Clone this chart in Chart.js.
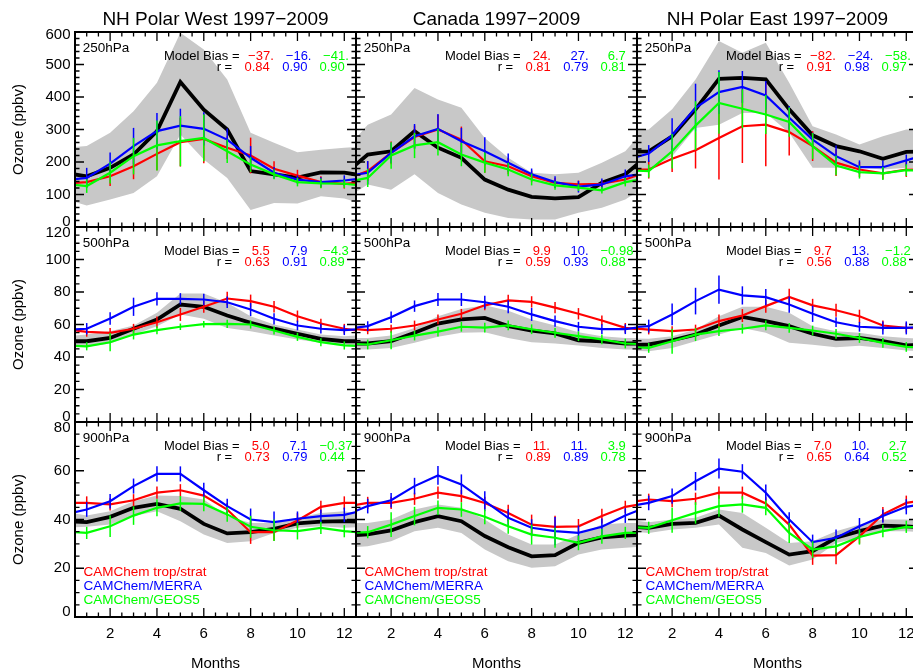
<!DOCTYPE html>
<html>
<head>
<meta charset="utf-8">
<script src="https://cdn.jsdelivr.net/npm/chart.js@4.4.1/dist/chart.umd.min.js"></script>
<style>
  html, body { margin: 0; padding: 0; background: #fff; overflow: hidden; }
  #page { position: relative; width: 920px; height: 670px; }
  #page canvas { position: absolute; left: 0; top: 0; }
</style>
</head>
<body>
<div id="page"></div>
<script>
// ---- data -------------------------------------------------------------
const months = [1, 2, 3, 4, 5, 6, 7, 8, 9, 10, 11, 12];
const xTickLabels = [2, 4, 6, 8, 10, 12];
const regions = ['NH Polar West 1997\u22122009', 'Canada 1997\u22122009', 'NH Polar East 1997\u22122009'];
const levels = ['250hPa', '500hPa', '900hPa'];
const yMax = [600, 120, 80];
const yMajor = [100, 20, 20];
const yMinor = [20, 5, 5];
const modelNames = ['CAMChem trop/strat', 'CAMChem/MERRA', 'CAMChem/GEOS5'];

// panels run row by row: 250hPa (West, Canada, East), 500hPa ..., 900hPa ...
const obsMean = [
  [156, 182, 223, 295, 446, 361, 300, 172, 162, 152, 168, 167],
  [223, 233, 295, 244, 213, 146, 115, 93, 88, 92, 136, 162],
  [233, 279, 362, 456, 459, 454, 362, 282, 249, 233, 210, 231],
  [49.7, 51.7, 57.4, 63, 72.3, 70.9, 65.5, 61, 57.4, 54.3, 51.2, 49.7],
  [48.3, 49.7, 54.9, 60.6, 63.1, 64.1, 59, 56.3, 54.5, 50.3, 49.7, 48.3],
  [47.7, 50.3, 53.8, 59.4, 64.7, 62.1, 59, 54.3, 51.2, 51.7, 49.7, 47.1],
  [38.9, 41.1, 44.8, 46.4, 44.4, 38.2, 34.3, 34.8, 36.2, 38.4, 39.1, 39.3],
  [33.9, 35.5, 38.9, 41.4, 39.3, 33.2, 28.6, 24.9, 25.4, 30.4, 32.7, 33.4],
  [36.6, 38.2, 38.6, 41.6, 35.9, 30.7, 25.6, 27, 32.5, 35.2, 37.5, 37.2]
];
const obsLow = [
  [66, 85, 105, 156, 285, 208, 151, 52, 74, 72, 95, 88],
  [131, 115, 162, 105, 69, 44, 28, 23, 23, 44, 59, 85],
  [177, 218, 305, 315, 351, 351, 290, 182, 182, 182, 177, 182],
  [46.3, 48.3, 53.8, 59, 66.2, 63.5, 57.9, 55.9, 53.2, 50.8, 48.7, 47.7],
  [44.6, 45.6, 48.7, 52.4, 54.9, 55.3, 51.7, 49.1, 48.3, 47.1, 45.6, 44.6],
  [43.5, 45.6, 49.7, 53.8, 57.9, 54.9, 48.7, 47.5, 46, 47, 45.6, 44],
  [37, 37.9, 41.4, 43.4, 39.3, 33.8, 30.4, 31.1, 34.5, 36.6, 37.2, 36.6],
  [29, 31.1, 35.2, 36.6, 34.5, 27.7, 22.9, 20.2, 20.8, 25.6, 27.7, 28.4],
  [34.5, 35.9, 36.6, 37.9, 28.4, 26.3, 21.1, 23.6, 30.4, 32.5, 35.2, 35.2]
];
const obsHigh = [
  [249, 290, 356, 444, 598, 546, 454, 290, 259, 230, 238, 244],
  [315, 346, 428, 392, 367, 274, 213, 167, 162, 167, 198, 233],
  [300, 362, 454, 572, 536, 567, 444, 310, 285, 254, 279, 300],
  [53.8, 55.9, 59.4, 67.2, 79.1, 79.1, 73.4, 65.1, 60, 56.9, 53.8, 52.8],
  [51.7, 53.2, 57.9, 65.1, 69.6, 71.8, 68.4, 63.1, 59.4, 55.3, 52.8, 51.7],
  [51.2, 52.8, 56.9, 65.1, 70.9, 70.9, 67.2, 59, 55.9, 54.9, 52.8, 51.7],
  [41.6, 43.4, 47.5, 49.8, 49.6, 48.2, 41.4, 38.6, 38.6, 40.7, 42.7, 43.4],
  [38.6, 40, 44.1, 46.2, 44.8, 40, 33.8, 29.7, 29.7, 33.8, 37.9, 38.6],
  [38.9, 40, 40.7, 44.1, 42.7, 36.6, 30.4, 31.1, 35.2, 37.9, 40, 40]
];

const tropStrat = [
  [138, 156, 187, 225, 261, 271, 244, 220, 179, 158, 138, 133],
  [172, 228, 277, 300, 269, 202, 187, 156, 136, 131, 133, 146],
  [177, 210, 236, 274, 310, 315, 292, 249, 198, 177, 165, 177],
  [55.5, 54.9, 57.4, 61.4, 66.2, 70.9, 76, 74.4, 70.9, 65.1, 60.6, 57.4],
  [56.5, 57.4, 59.4, 63.1, 66.6, 71.8, 74.8, 73.9, 70.4, 66.6, 62.5, 57.9],
  [56.9, 55.9, 56.9, 62.1, 65.5, 71.3, 77, 71.8, 68.8, 65.1, 59.4, 58],
  [46.8, 46.2, 47.9, 51, 52, 49.8, 44.1, 34.8, 34.8, 39.6, 45.2, 46.8],
  [46.8, 46.8, 48.5, 51, 49.6, 46.8, 42.7, 37.9, 37, 37.2, 41.4, 45.2],
  [48.2, 47.5, 48.5, 51, 51, 46.6, 37.9, 25.2, 25.4, 33.1, 42.1, 46.8]
];
const merra = [
  [151, 195, 249, 295, 312, 302, 269, 213, 167, 146, 138, 143],
  [167, 228, 279, 302, 264, 233, 198, 162, 138, 124, 131, 156],
  [226, 282, 367, 415, 431, 405, 336, 269, 218, 184, 184, 205],
  [57.4, 63.7, 70.9, 75.8, 75.8, 75.4, 73.7, 69.2, 63.5, 59.4, 57.4, 56.5],
  [59, 64.5, 71.3, 75.4, 75.4, 73.7, 70.9, 66.2, 62.1, 58.6, 57.1, 57.1],
  [59, 66.2, 74.4, 81.5, 77.9, 76.8, 72.3, 66.6, 61.4, 58.6, 57.9, 57.9],
  [44.1, 47.5, 53.7, 58.7, 58.7, 52, 45.5, 40, 38.9, 40.3, 41.4, 41.9],
  [45.5, 47.9, 53.7, 58.1, 54.4, 47.5, 40.7, 36.6, 35.2, 34.5, 37, 41.6],
  [46.8, 49.6, 55.7, 60.9, 59.6, 51, 40, 30.7, 32.5, 37.2, 41.4, 45.2]
];
const geos5 = [
  [126, 167, 218, 251, 264, 274, 233, 192, 162, 138, 134, 133],
  [151, 220, 251, 261, 223, 198, 177, 146, 128, 121, 113, 138],
  [172, 233, 312, 382, 364, 346, 323, 249, 189, 169, 165, 175],
  [46.6, 49.1, 53.8, 56.5, 58.6, 60.2, 60.4, 60, 56.3, 52.4, 49.1, 47.1],
  [47.7, 50.3, 53.2, 55.6, 58.6, 58.1, 59.4, 57.1, 54.9, 52.8, 50.8, 48.3],
  [45.6, 49.7, 53.8, 55.9, 57.4, 59.4, 57.9, 56.3, 54.3, 51.7, 48.7, 46.2],
  [34.5, 37.2, 41.6, 44.8, 46.6, 46.4, 42.1, 37, 35.6, 35.2, 36.6, 35.2],
  [34.8, 37.9, 41.4, 44.8, 44.1, 41.1, 37.2, 33.8, 32.5, 30.4, 33.1, 34.5],
  [36.6, 39.7, 42.7, 45.5, 46.2, 44.8, 34.5, 27.7, 29, 32.8, 35.2, 37]
];

// half-length of the spread bars
const tropStratErr = [
  [12, 30, 40, 50, 75, 75, 35, 55, 23, 18, 18, 15],
  [30, 35, 35, 45, 40, 35, 25, 18, 15, 12, 12, 15],
  [28, 41, 56, 128, 113, 128, 72, 46, 41, 23, 18, 23],
  [3, 3, 3, 3.5, 4, 3.6, 4.1, 4, 3.5, 3.5, 3, 3],
  [2.5, 2.5, 3, 3, 3, 3, 3.5, 3.5, 3.5, 3.5, 3, 3],
  [3, 3, 3, 4, 4, 4, 5, 4, 4, 4, 3, 3],
  [2.7, 2.5, 2.5, 2.5, 2.5, 2.7, 2.7, 4.8, 3.5, 3, 2.5, 2.7],
  [2.5, 2.5, 2.5, 2.5, 2.5, 2.5, 3.4, 4.1, 4.5, 3, 3, 2.5],
  [2.4, 2.5, 2.5, 2.5, 2.5, 2.5, 3, 3.8, 3.8, 3, 3, 3]
];
const merraErr = [
  [31, 34, 56, 56, 52, 51, 34, 36, 18, 13, 15, 16],
  [36, 31, 38, 46, 41, 43, 28, 18, 18, 18, 18, 21],
  [26, 53, 74, 67, 49, 44, 36, 21, 33, 21, 21, 18],
  [3.5, 3.8, 5.6, 4.1, 3.5, 3.5, 3.5, 4, 3.5, 3, 3, 3],
  [3, 3.5, 3.5, 4, 4, 4, 4, 4, 3.5, 3, 3, 3],
  [4, 6.7, 8.2, 8.7, 5.6, 5, 5, 5, 3, 3, 4, 4],
  [3, 3, 3.1, 3.1, 3.1, 3.1, 3, 4.5, 4.4, 3, 2.7, 3],
  [3, 3, 3.4, 3.8, 4.1, 4.1, 3.5, 3.5, 5.8, 3, 3.4, 3],
  [3, 3.1, 3.8, 4.1, 3.1, 3.4, 3, 3.1, 3.4, 3.4, 2.7, 3.1]
];
const geos5Err = [
  [21, 33, 56, 77, 77, 72, 36, 23, 15, 13, 15, 13],
  [28, 41, 39, 41, 36, 31, 21, 18, 13, 10, 10, 13],
  [20, 53, 75, 95, 60, 60, 45, 40, 30, 20, 20, 18],
  [2.5, 5.6, 3, 2.5, 2, 2, 2.5, 2.5, 2.5, 2.5, 2.5, 2.5],
  [3, 5.6, 3, 3, 3, 3, 3, 3, 3, 3, 3, 3],
  [3, 7.7, 4, 3, 3, 3, 3, 3, 3, 3, 3, 3],
  [2.5, 4.4, 3.8, 3.5, 3, 3, 3, 4.5, 4.4, 3.4, 2.5, 2.5],
  [2.5, 5.1, 3.8, 3, 3, 3, 3, 4.1, 4.1, 3, 3, 2.5],
  [2.5, 5.1, 4.4, 4.4, 3.4, 3.1, 4.1, 3.4, 3.1, 3.1, 2.5, 2.5]
];

const biasText = [
  ['\u221237.', '\u221216.', '\u221241.'],
  ['24.', '27.', '6.7'],
  ['\u221282.', '\u221224.', '\u221258.'],
  ['5.5', '7.9', '\u22124.3'],
  ['9.9', '10.', '\u22120.98'],
  ['9.7', '13.', '\u22121.2'],
  ['5.0', '7.1', '\u22120.37'],
  ['11.', '11.', '3.9'],
  ['7.0', '10.', '2.7']
];
const corrText = [
  ['0.84', '0.90', '0.90'],
  ['0.81', '0.79', '0.81'],
  ['0.91', '0.98', '0.97'],
  ['0.63', '0.91', '0.89'],
  ['0.59', '0.93', '0.88'],
  ['0.56', '0.88', '0.88'],
  ['0.73', '0.79', '0.44'],
  ['0.89', '0.89', '0.78'],
  ['0.65', '0.64', '0.52']
];

// ---- layout -----------------------------------------------------------
const PAGE_W = 920, PAGE_H = 670;
const colLeft = [75, 356, 637];
const COL_W = 281;
const rowTop = [32, 227, 422];
const ROW_H = 195;
const FONT = '"Liberation Sans", Arial, Helvetica, sans-serif';
const RED = '#ff0000', BLUE = '#0000ff', GREEN = '#00ff00', GRAY = '#c8c8c8';
const modelColors = [RED, BLUE, GREEN];
const valueCols = [169.5, 207.2, 244.5];

// Dec in front, Jan at the end, so the curves run to both frame edges
function wrap(values) {
  const xs = [0, ...months, 13];
  const ys = [values[11], ...values, values[0]];
  return xs.map((x, i) => ({ x, y: ys[i] }));
}

function lineSet(values, color, width, order) {
  return {
    type: 'line', data: wrap(values), borderColor: color, borderWidth: width,
    pointRadius: 0, tension: 0, fill: false, clip: 0, order
  };
}

function spreadSet(values, errs, color, order) {
  return {
    type: 'bar',
    data: months.map((m, i) => ({ x: m, y: [values[i] - errs[i], values[i] + errs[i]] })),
    backgroundColor: color, borderWidth: 0, maxBarThickness: 1.5, grouped: false,
    clip: 0, order
  };
}

function panelDecor(row, col, p) {
  return {
    id: 'panelDecor',
    afterDraw(chart) {
      const { ctx, chartArea: a } = chart;
      const xs = chart.scales.x, ys = chart.scales.y;
      ctx.save();

      // inward ticks on all four sides
      ctx.strokeStyle = '#000';
      ctx.lineWidth = 1.3;
      ctx.beginPath();
      for (let k = 1; k <= 25; k++) {
        const m = k / 2;
        const px = xs.getPixelForValue(m);
        const len = m % 2 === 0 ? 9 : 4.5;
        ctx.moveTo(px, a.bottom); ctx.lineTo(px, a.bottom - len);
        ctx.moveTo(px, a.top); ctx.lineTo(px, a.top + len);
      }
      for (let v = 0; v <= yMax[row]; v += yMinor[row]) {
        const py = ys.getPixelForValue(v);
        const len = v % yMajor[row] === 0 ? 9 : 4.5;
        ctx.moveTo(a.left, py); ctx.lineTo(a.left + len, py);
        ctx.moveTo(a.right, py); ctx.lineTo(a.right - len, py);
      }
      ctx.stroke();
      ctx.lineWidth = 2;
      ctx.strokeRect(a.left, a.top, a.right - a.left, a.bottom - a.top);

      // level, bias and correlation
      ctx.fillStyle = '#000';
      ctx.textBaseline = 'alphabetic';
      ctx.textAlign = 'left';
      ctx.font = `13.5px ${FONT}`;
      ctx.fillText(levels[row], a.left + 7.8, a.top + 20);
      ctx.font = `13px ${FONT}`;
      ctx.textAlign = 'right';
      ctx.fillText('Model Bias =', a.left + 164.5, a.top + 28);
      ctx.fillText('r =', a.left + 157.2, a.top + 39);
      ctx.textAlign = 'left';
      const sp = ctx.measureText(' ').width;
      for (let k = 0; k < 3; k++) {
        ctx.fillStyle = modelColors[k];
        const b = biasText[p][k];
        ctx.fillText(b, a.left + valueCols[k] + (5 - b.length) * sp, a.top + 28);
        ctx.fillText(corrText[p][k], a.left + valueCols[k], a.top + 39);
      }

      // model key in the bottom row
      if (row === 2) {
        ctx.font = `13.5px ${FONT}`;
        const keyY = [153.5, 167.7, 182];
        modelNames.forEach((name, k) => {
          ctx.fillStyle = modelColors[k];
          ctx.fillText(name, a.left + 8.5, a.top + keyY[k]);
        });
      }

      ctx.fillStyle = '#000';
      // y tick labels and axis title on the left column
      if (col === 0) {
        ctx.font = `15px ${FONT}`;
        ctx.textAlign = 'right';
        ctx.textBaseline = 'middle';
        for (let v = 0; v <= yMax[row]; v += yMajor[row]) {
          let py = ys.getPixelForValue(v);
          if (v === 0) py -= 5;
          if (v === yMax[row]) py += row === 0 ? 2.5 : 5.5;
          ctx.fillText(String(v), a.left - 4.5, py);
        }
        ctx.save();
        ctx.translate(23, (a.top + a.bottom) / 2);
        ctx.rotate(-Math.PI / 2);
        ctx.textAlign = 'center';
        ctx.textBaseline = 'alphabetic';
        ctx.fillText('Ozone (ppbv)', 0, 0);
        ctx.restore();
      }

      // x tick labels and axis title on the bottom row
      if (row === 2) {
        ctx.font = `15px ${FONT}`;
        ctx.textAlign = 'center';
        ctx.textBaseline = 'alphabetic';
        xTickLabels.forEach(m => {
          ctx.fillText(String(m), xs.getPixelForValue(m), a.bottom + 20.5);
        });
        ctx.fillText('Months', (a.left + a.right) / 2, a.bottom + 50.5);
      }

      // region title over the top row
      if (row === 0) {
        ctx.font = `19px ${FONT}`;
        ctx.textAlign = 'center';
        ctx.textBaseline = 'alphabetic';
        ctx.fillText(regions[col], (a.left + a.right) / 2, a.top - 7);
      }
      ctx.restore();
    }
  };
}

// ---- charts -----------------------------------------------------------
const page = document.getElementById('page');
for (let row = 0; row < 3; row++) {
  for (let col = 0; col < 3; col++) {
    const p = row * 3 + col;
    const canvas = document.createElement('canvas');
    canvas.width = PAGE_W;
    canvas.height = PAGE_H;
    page.appendChild(canvas);

    new Chart(canvas, {
      type: 'line',
      data: {
        datasets: [
          { type: 'line', data: wrap(obsHigh[p]), borderWidth: 0, borderColor: 'rgba(0,0,0,0)',
            pointRadius: 0, fill: '+1', backgroundColor: GRAY, clip: 0, order: 9 },
          { type: 'line', data: wrap(obsLow[p]), borderWidth: 0, borderColor: 'rgba(0,0,0,0)',
            pointRadius: 0, fill: false, clip: 0, order: 9 },
          lineSet(obsMean[p], '#000000', 3.8, 7),
          lineSet(tropStrat[p], RED, 2.2, 6),
          spreadSet(tropStrat[p], tropStratErr[p], RED, 5),
          lineSet(merra[p], BLUE, 2.2, 4),
          spreadSet(merra[p], merraErr[p], BLUE, 3),
          lineSet(geos5[p], GREEN, 2.2, 2),
          spreadSet(geos5[p], geos5Err[p], GREEN, 1)
        ]
      },
      options: {
        responsive: false,
        animation: false,
        devicePixelRatio: 1,
        events: [],
        layout: {
          padding: {
            left: colLeft[col],
            top: rowTop[row],
            right: PAGE_W - colLeft[col] - COL_W,
            bottom: PAGE_H - rowTop[row] - ROW_H
          }
        },
        plugins: {
          legend: { display: false },
          tooltip: { enabled: false },
          title: { display: false }
        },
        scales: {
          x: { type: 'linear', min: 0.5, max: 12.5, offset: false, display: false },
          y: { type: 'linear', min: 0, max: yMax[row], display: false }
        }
      },
      plugins: [panelDecor(row, col, p)]
    });
  }
}
</script>
</body>
</html>
